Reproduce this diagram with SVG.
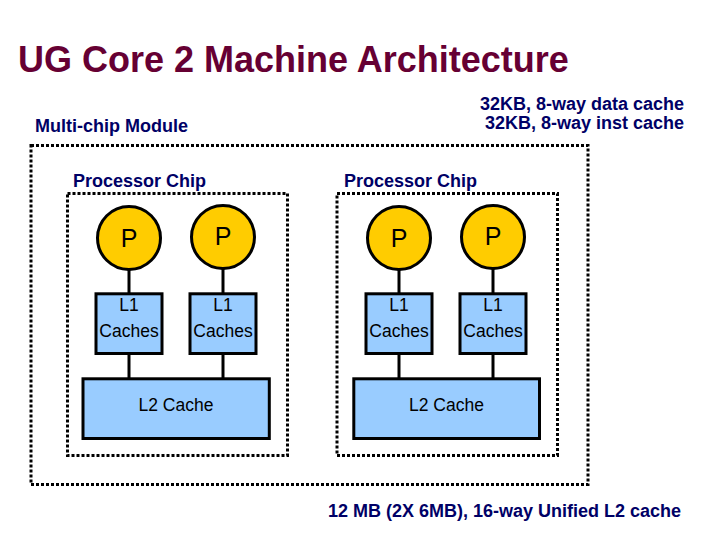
<svg xmlns="http://www.w3.org/2000/svg" width="720" height="540" viewBox="0 0 720 540">
<style>
text { font-family: "Liberation Sans", Arial, sans-serif; }
.title { font-size: 36px; font-weight: bold; fill: #660033; }
.lbl { font-size: 18px; font-weight: bold; fill: #000066; }
.dot { fill: none; stroke: #000000; stroke-width: 3; stroke-dasharray: 3 2; }
.proc { fill: #FFCC00; stroke: #000000; stroke-width: 3; }
.cache { fill: #99CCFF; stroke: #000000; stroke-width: 3; }
.ptxt { font-size: 25px; fill: #000000; text-anchor: middle; }
.ctxt { font-size: 17.5px; fill: #000000; text-anchor: middle; }
.conn { stroke: #000000; stroke-width: 3; }
</style>
<rect width="720" height="540" fill="#ffffff"/>
<text class="title" x="18" y="72">UG Core 2 Machine Architecture</text>
<text class="lbl" x="35" y="132">Multi-chip Module</text>
<text class="lbl" x="684" y="110" text-anchor="end">32KB, 8-way data cache</text>
<text class="lbl" x="684" y="129" text-anchor="end">32KB, 8-way inst cache</text>
<text class="lbl" x="328" y="517">12 MB (2X 6MB), 16-way Unified L2 cache</text>

<g id="module">
<rect class="dot" x="31" y="145.5" width="557" height="339"/>
</g>
<g id="chip1">
<rect class="dot" x="67.5" y="193.5" width="220" height="262"/>
<text class="lbl" x="73" y="187">Processor Chip</text>
</g>
<g id="chip2">
<rect class="dot" x="337" y="193.5" width="220.5" height="262"/>
<text class="lbl" x="344" y="187">Processor Chip</text>
</g>

<g id="connectors">
<line class="conn" x1="129" y1="269" x2="129" y2="294"/>
<line class="conn" x1="223" y1="269" x2="223" y2="294"/>
<line class="conn" x1="399" y1="269" x2="399" y2="294"/>
<line class="conn" x1="493" y1="269" x2="493" y2="294"/>
<line class="conn" x1="129" y1="353" x2="129" y2="379"/>
<line class="conn" x1="223" y1="353" x2="223" y2="379"/>
<line class="conn" x1="399" y1="353" x2="399" y2="379"/>
<line class="conn" x1="493" y1="353" x2="493" y2="379"/>
</g>

<g id="p1"><circle class="proc" cx="129" cy="238" r="31.5"/><text class="ptxt" x="129" y="247">P</text></g>
<g id="p2"><circle class="proc" cx="223" cy="237" r="31.5"/><text class="ptxt" x="223" y="245">P</text></g>
<g id="p3"><circle class="proc" cx="399" cy="238" r="31.5"/><text class="ptxt" x="399" y="247">P</text></g>
<g id="p4"><circle class="proc" cx="493" cy="237" r="31.5"/><text class="ptxt" x="493" y="245">P</text></g>

<g id="l1a"><rect class="cache" x="96" y="293.8" width="66" height="59.7"/><text class="ctxt" x="129" y="311">L1</text><text class="ctxt" x="129" y="337">Caches</text></g>
<g id="l1b"><rect class="cache" x="190" y="293.8" width="66" height="59.7"/><text class="ctxt" x="223" y="311">L1</text><text class="ctxt" x="223" y="337">Caches</text></g>
<g id="l1c"><rect class="cache" x="366" y="293.8" width="66" height="59.7"/><text class="ctxt" x="399" y="311">L1</text><text class="ctxt" x="399" y="337">Caches</text></g>
<g id="l1d"><rect class="cache" x="460" y="293.8" width="66" height="59.7"/><text class="ctxt" x="493" y="311">L1</text><text class="ctxt" x="493" y="337">Caches</text></g>

<g id="l2a"><rect class="cache" x="83" y="378.8" width="186.3" height="59.7"/><text class="ctxt" x="176" y="411">L2 Cache</text></g>
<g id="l2b"><rect class="cache" x="353.8" y="378.8" width="185.7" height="59.7"/><text class="ctxt" x="446.5" y="411">L2 Cache</text></g>
</svg>
